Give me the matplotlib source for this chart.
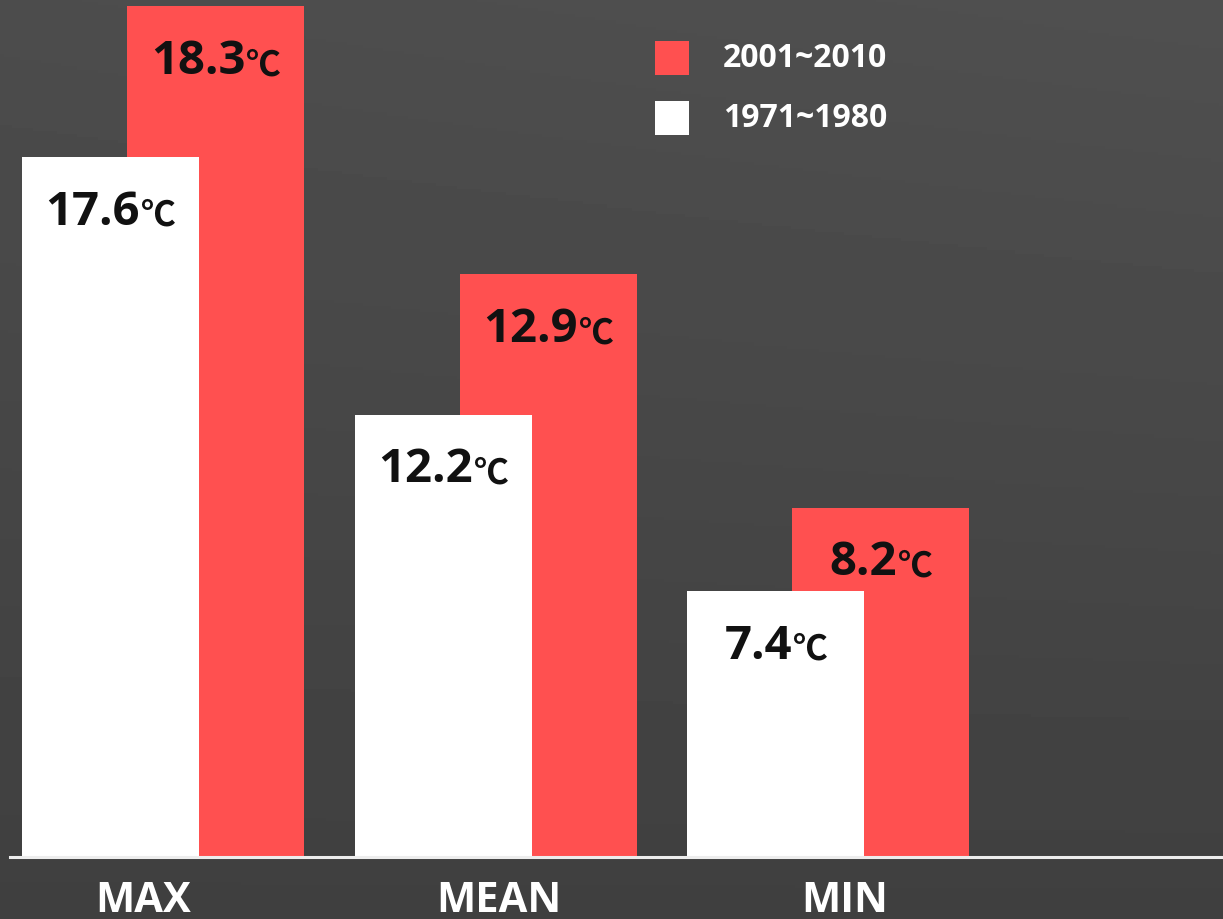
import matplotlib.pyplot as plt
import numpy as np
from matplotlib.patches import Rectangle

categories = ['MAX', 'MEAN', 'MIN']
periods = ['1971~1980', '2001~2010']
old_values = [17.6, 12.2, 7.4]   # 1971~1980 (°C)
new_values = [18.3, 12.9, 8.2]   # 2001~2010 (°C)
# bars in the original are not drawn to scale -> heights
old_heights = [17.6, 11.11, 6.67]
new_heights = [21.39, 14.64, 8.77]

RED = '#FF5050'
WHITE = '#FFFFFF'
plt.rcParams['font.family'] = ['Open Sans', 'Noto Sans CJK KR', 'DejaVu Sans']

fig = plt.figure(figsize=(12.23, 9.2), dpi=100)

# dark gradient background
bg = fig.add_axes([0, 0, 1, 1], zorder=0)
rows = np.linspace(0, 1, 300)[:, None]
cols = np.linspace(0, 1, 300)[None, :]
shade = 0.300 - 0.052 * rows + 0.012 * cols * (1 - rows)
bg.imshow(shade, cmap='gray', vmin=0, vmax=1, aspect='auto', extent=[0, 1, 0, 1])
bg.axis('off')

ax = fig.add_axes([0, 0.0685, 1, 0.9315], zorder=1)
ax.patch.set_alpha(0)
for s in ax.spines.values():
    s.set_visible(False)

x = np.arange(len(categories))
width = 0.532
shift = 0.158
ax.bar(x + shift, new_heights, width, color=RED, zorder=2)
ax.bar(x - shift, old_heights, width, color=WHITE, zorder=3)
ax.set_xlim(-0.4895, 3.186)
ax.set_ylim(0, 21.576)
ax.set_yticks([])

ax.axhline(-0.03, xmin=0.008, xmax=1, color='#ededed', lw=2.2, clip_on=False, zorder=4)

ax.set_xticks([-0.06, 1.01, 2.05], categories)
ax.tick_params(axis='x', length=0, pad=17, labelsize=30, labelcolor='white')
for t in ax.get_xticklabels():
    t.set_fontweight('bold')

# value labels: number + smaller degree sign, centred on the bar
fig.canvas.draw()
renderer = fig.canvas.get_renderer()
for xs, hs, vs in [(x - shift, old_heights, old_values), (x + shift, new_heights, new_values)]:
    for xc, h, v in zip(xs, hs, vs):
        num = ax.annotate(f'{v:.1f}', (xc, h), xytext=(0, -48), textcoords='offset points',
                          ha='right', va='baseline', fontsize=34, fontweight='bold',
                          color='#111111', zorder=5)
        deg = ax.annotate('℃', (1, 0.21), xycoords=num, ha='left', va='baseline',
                          fontsize=25, fontweight='bold', color='#111111', zorder=5,
                          family=['Noto Sans CJK KR', 'DejaVu Sans'])
        w_num = num.get_window_extent(renderer).width
        w_deg = deg.get_window_extent(renderer).width
        dx = (w_num - (w_num + w_deg) / 2) * 72 / fig.dpi
        num.set_position((dx, -48))

# legend
for k, (lab, col) in enumerate([(periods[1], RED), (periods[0], WHITE)]):
    yc = 0.9359 - k * 0.0652
    fig.patches.append(Rectangle((0.5356, yc - 0.018), 0.0275, 0.036, transform=fig.transFigure,
                                 facecolor=col, edgecolor='none', zorder=3))
    fig.text(0.5912, yc, lab, ha='left', va='center', fontsize=23, fontweight='bold',
             color='white', zorder=3)

fig.savefig('out.png', dpi=100)
